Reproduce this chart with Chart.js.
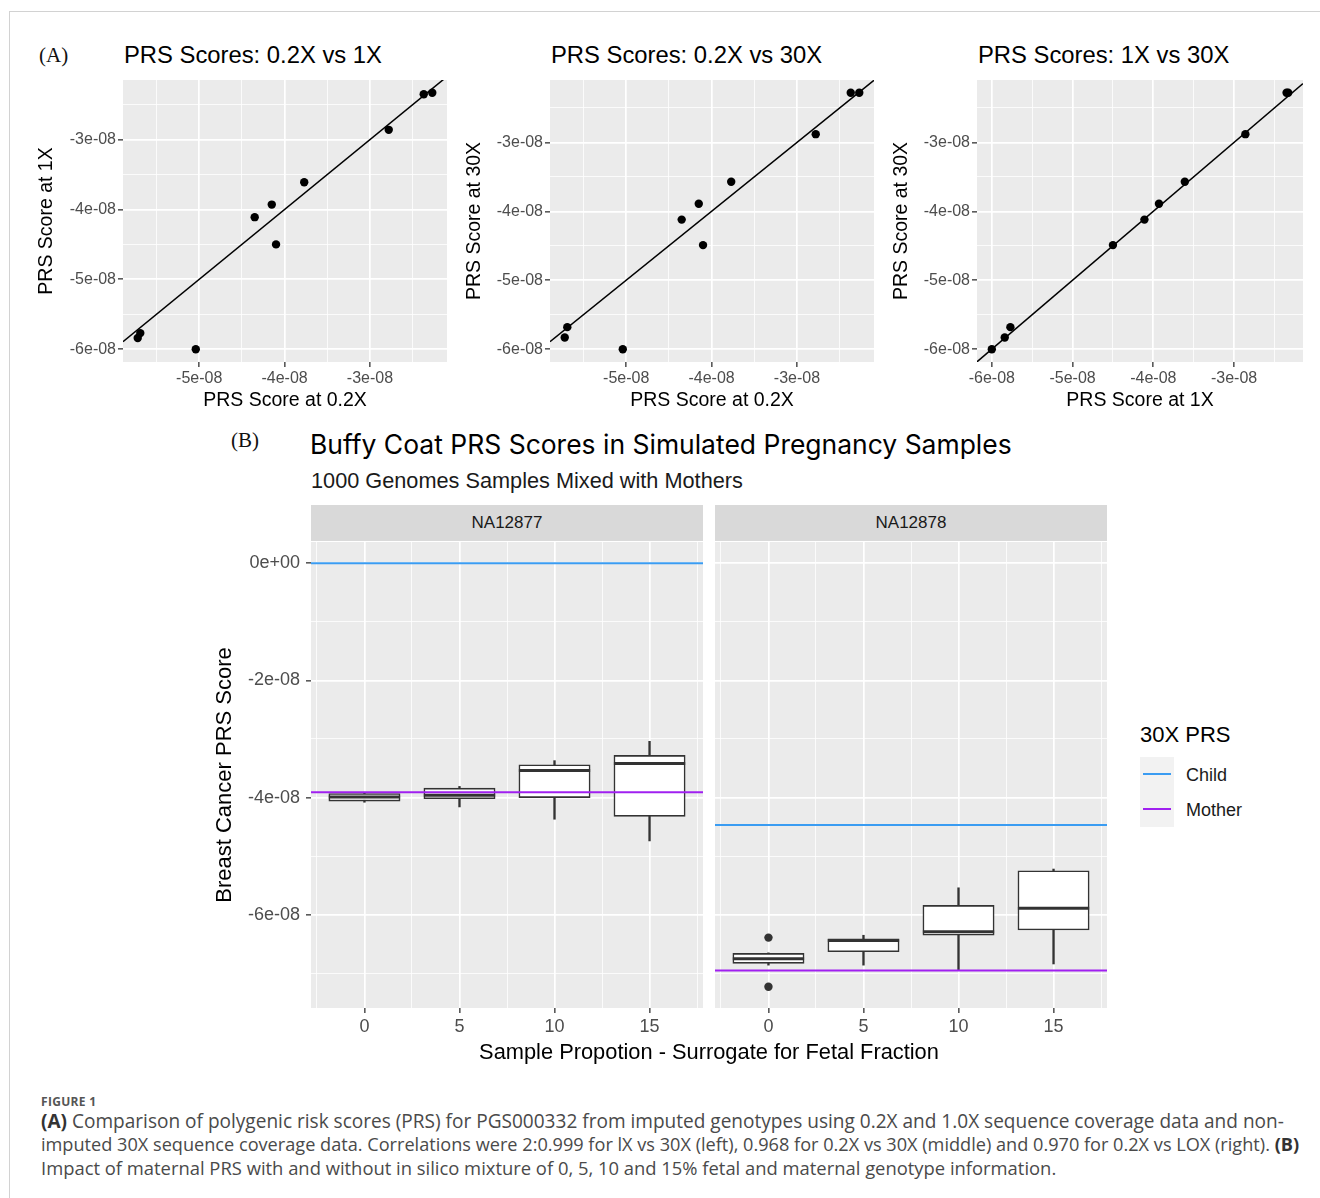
<!DOCTYPE html>
<html>
<head>
<meta charset="utf-8">
<script src="https://cdn.jsdelivr.net/npm/chart.js@4.4.1/dist/chart.umd.min.js"></script>
<style>
  html, body { margin:0; padding:0; background:#ffffff; }
  body { width:1320px; height:1198px; position:relative; overflow:hidden; font-family:"Liberation Sans", Arial, sans-serif; color:#000; }
  .frame { position:absolute; left:9px; top:11px; width:1400px; height:1400px; border-left:1px solid #d2d2d2; border-top:1px solid #d2d2d2; }
  .t { position:absolute; white-space:nowrap; }
  canvas { position:absolute; }
  .serif { font-family:"Liberation Serif", "Times New Roman", serif; font-size:21px; color:#111; line-height:26px; height:26px; }
  .ttlA { font-size:23.8px; line-height:30px; height:30px; color:#000; }
  .strip { position:absolute; background:#D9D9D9; color:#1A1A1A; font-size:17px; text-align:center; line-height:36px; height:36px; }
  .cap { font-family:"Open Sans", "Liberation Sans", sans-serif; color:#4a4a4a; font-size:16px; line-height:22px; height:22px; }
  .cap b { color:#333; }
</style>
</head>
<body>
<div class="frame"></div>

<!-- Panel A headings -->
<div class="t serif" style="left:39px; top:42px;">(A)</div>
<div class="t ttlA" style="left:124px; top:40px;">PRS Scores: 0.2X vs 1X</div>
<div class="t ttlA" style="left:551px; top:40px;">PRS Scores: 0.2X vs 30X</div>
<div class="t ttlA" style="left:978px; top:40px;">PRS Scores: 1X vs 30X</div>

<canvas id="a1" width="422" height="346" style="left:35px; top:66px;"></canvas>
<canvas id="a2" width="421" height="346" style="left:463px; top:66px;"></canvas>
<canvas id="a3" width="423" height="346" style="left:890px; top:66px;"></canvas>

<!-- Panel B headings -->
<div class="t serif" style="left:231px; top:427px;">(B)</div>
<div class="t fit" data-w="702" style="left:310px; top:428px; font-family:Inter, 'Noto Sans', sans-serif; font-size:24px; line-height:32px; height:32px; color:#000;">Buffy Coat PRS Scores in Simulated Pregnancy Samples</div>
<div class="t fit" data-w="432" style="left:311px; top:467px; font-size:21px; line-height:28px; height:28px; color:#1a1a1a;">1000 Genomes Samples Mixed with Mothers</div>

<div class="strip" style="left:311px; top:505px; width:392px;">NA12877</div>
<div class="strip" style="left:715px; top:505px; width:392px;">NA12878</div>

<canvas id="b1" width="491" height="540" style="left:212px; top:525px;"></canvas>
<canvas id="b2" width="392" height="540" style="left:715px; top:525px;"></canvas>

<div class="t fit" data-w="460" data-center="709" style="left:478px; top:1038px; font-size:22px; line-height:28px; height:28px; color:#000;">Sample Propotion - Surrogate for Fetal Fraction</div>

<!-- Legend -->
<div class="t" style="left:1140px; top:721px; font-size:22px; line-height:28px; height:28px; color:#000;">30X PRS</div>
<div style="position:absolute; left:1140px; top:757px; width:34px; height:70px; background:#F2F2F2;"></div>
<div id="legChild" style="position:absolute; left:1143px; top:773px; width:28px; height:2px;"></div>
<div id="legMother" style="position:absolute; left:1143px; top:808px; width:28px; height:2px;"></div>
<div class="t" style="left:1186px; top:763px; font-size:18px; line-height:24px; height:24px; color:#1a1a1a;">Child</div>
<div class="t" style="left:1186px; top:798px; font-size:18px; line-height:24px; height:24px; color:#1a1a1a;">Mother</div>

<!-- Caption -->
<div class="t" style="left:41px; top:1094px; font-family:'Open Sans','Liberation Sans',sans-serif; font-size:12px; font-weight:bold; color:#555; line-height:16px; height:16px; letter-spacing:0.3px;">FIGURE 1</div>
<div class="t cap fit" data-w="1244" style="left:41px; top:1110px;"><b>(A)</b> Comparison of polygenic risk scores (PRS) for PGS000332 from imputed genotypes using 0.2X and 1.0X sequence coverage data and non-</div>
<div class="t cap fit" data-w="1259" style="left:41px; top:1133px;">imputed 30X sequence coverage data. Correlations were 2:0.999 for lX vs 30X (left), 0.968 for 0.2X vs 30X (middle) and 0.970 for 0.2X vs LOX (right). <b>(B)</b></div>
<div class="t cap fit" data-w="1016" style="left:41px; top:1157px;">Impact of maternal PRS with and without in silico mixture of 0, 5, 10 and 15% fetal and maternal genotype information.</div>

<script>
// ================= DATA =================
// Panel A: PRS scores of the ten samples at each coverage
const prs02 = [-5.72e-8, -5.69e-8, -5.04e-8, -4.35e-8, -4.15e-8, -4.10e-8, -3.77e-8, -2.78e-8, -2.37e-8, -2.27e-8];
const prs1  = [-5.84e-8, -5.77e-8, -6.00e-8, -4.11e-8, -3.93e-8, -4.50e-8, -3.61e-8, -2.86e-8, -2.35e-8, -2.33e-8];
const prs30 = [-5.83e-8, -5.68e-8, -6.00e-8, -4.12e-8, -3.89e-8, -4.49e-8, -3.57e-8, -2.88e-8, -2.28e-8, -2.28e-8];
const tickValuesA = [-6.5e-8, -6e-8, -5.5e-8, -5e-8, -4.5e-8, -4e-8, -3.5e-8, -3e-8, -2.5e-8, -2e-8];

// Panel B: box plots by sample proportion (fetal fraction surrogate)
const propCats = [0, 5, 10, 15];
const facetNames = ['NA12877', 'NA12878'];
const lo_NA12877  = [-4.08e-8, -4.16e-8, -4.37e-8, -4.74e-8];
const q1_NA12877  = [-4.06e-8, -4.02e-8, -4.00e-8, -4.32e-8];
const med_NA12877 = [-3.99e-8, -3.96e-8, -3.54e-8, -3.42e-8];
const q3_NA12877  = [-3.93e-8, -3.84e-8, -3.44e-8, -3.28e-8];
const hi_NA12877  = [-3.91e-8, -3.81e-8, -3.37e-8, -3.04e-8];
const out_NA12877 = [];
const lo_NA12878  = [-6.86e-8, -6.86e-8, -6.95e-8, -6.84e-8];
const q1_NA12878  = [-6.83e-8, -6.63e-8, -6.35e-8, -6.26e-8];
const med_NA12878 = [-6.75e-8, -6.44e-8, -6.29e-8, -5.89e-8];
const q3_NA12878  = [-6.66e-8, -6.41e-8, -5.84e-8, -5.25e-8];
const hi_NA12878  = [-6.65e-8, -6.35e-8, -5.54e-8, -5.22e-8];
const out_NA12878 = [{x: 0, y: -6.39e-8}, {x: 0, y: -7.23e-8}];
const child30X  = [0, -4.47e-8];      // per facet
const mother30X = [-3.91e-8, -6.95e-8]; // per facet
const tickValuesBy = [-8e-8, -7e-8, -6e-8, -5e-8, -4e-8, -3e-8, -2e-8, -1e-8, 0];
const tickValuesBx = [-2.5, 0, 2.5, 5, 7.5, 10, 12.5, 15, 17.5];

// ================= STYLE =================
const FONT = '"Liberation Sans", Arial, sans-serif';
const TICK_GRAY = '#4D4D4D';
const CHILD_COL = '#3A9CF2';
const MOTHER_COL = '#A020F0';
const BOX_DARK = '#333333';
document.getElementById('legChild').style.background = CHILD_COL;
document.getElementById('legMother').style.background = MOTHER_COL;

// text width fitting for HTML labels
document.querySelectorAll('.fit').forEach(el => {
  const target = +el.dataset.w;
  const w = el.getBoundingClientRect().width;
  const fs = parseFloat(getComputedStyle(el).fontSize);
  el.style.fontSize = (fs * target / w) + 'px';
  if (el.dataset.center) {
    const w2 = el.getBoundingClientRect().width;
    el.style.left = (+el.dataset.center - w2 / 2) + 'px';
  }
});

const bgPlugin = {
  id: 'panelBg',
  beforeDraw(chart) {
    const a = chart.chartArea; if (!a) return;
    const c = chart.ctx; c.save(); c.fillStyle = '#EBEBEB';
    c.fillRect(a.left, a.top, a.right - a.left, a.bottom - a.top); c.restore();
  }
};

function expand(vals, mult) {
  const lo = Math.min(...vals), hi = Math.max(...vals), d = (hi - lo) * mult;
  return [lo - d, hi + d];
}
function near(v, step) { const r = v / step; return Math.abs(r - Math.round(r)) < 1e-6; }
function sci(v) { if (Math.abs(v) < 1e-15) return '0e+00'; return Math.round(v / 1e-8) + 'e-08'; }

function makeScale(o) {
  const {axis, min, max, ticks, majorFn, labelFn, fontSize, pad, title, titleSize, showLabels, fitSize} = o;
  return {
    type: 'linear', min, max, offset: false,
    border: {display: false},
    grid: {
      offset: false, drawOnChartArea: true, drawTicks: showLabels, tickLength: 5,
      color: '#FFFFFF',
      lineWidth: (c) => (c.tick && majorFn(c.tick.value)) ? 1.7 : 0.8,
      tickColor: (c) => (c.tick && majorFn(c.tick.value)) ? '#333333' : 'rgba(0,0,0,0)',
      tickWidth: 1.3
    },
    ticks: {
      display: showLabels, autoSkip: false, maxRotation: 0, minRotation: 0, padding: pad,
      color: TICK_GRAY, font: {family: FONT, size: fontSize},
      callback: (v) => majorFn(v) ? labelFn(v) : ''
    },
    title: title ? {display: true, text: title, color: '#000', font: {family: FONT, size: titleSize}, padding: 0} : {display: false},
    afterBuildTicks: (s) => { s.ticks = ticks.filter(t => t >= min - 1e-20 && t <= max + 1e-20).map(v => ({value: v})); },
    afterFit: (s) => { if (axis === 'x') s.height = fitSize; else s.width = fitSize; }
  };
}

// ================= PANEL A =================
function scatterPanel(id, xs, ys, xTitle, yTitle, yAxisW) {
  const xr = expand(xs, 0.05), yr = expand(ys, 0.05);
  const maj = (v) => near(v, 1e-8);
  new Chart(document.getElementById(id), {
    type: 'scatter',
    data: {
      datasets: [
        {type: 'line', data: [{x: xr[0], y: xr[0]}, {x: xr[1], y: xr[1]}], borderColor: '#000', borderWidth: 1.5,
         pointRadius: 0, showLine: true, fill: false, order: 2},
        {type: 'scatter', data: xs.map((x, i) => ({x, y: ys[i]})), backgroundColor: '#000', borderColor: '#000',
         pointRadius: 4.2, borderWidth: 0, order: 1}
      ]
    },
    options: {
      responsive: false, animation: false, events: [],
      layout: {autoPadding: false, padding: {left: 0, right: 10, top: 14, bottom: 0}},
      plugins: {legend: {display: false}, tooltip: {enabled: false}, title: {display: false}},
      scales: {
        x: makeScale({axis: 'x', min: xr[0], max: xr[1], ticks: tickValuesA, majorFn: maj, labelFn: sci,
                      fontSize: 16, pad: 2, title: xTitle, titleSize: 19.5, showLabels: true, fitSize: 50}),
        y: makeScale({axis: 'y', min: yr[0], max: yr[1], ticks: tickValuesA, majorFn: maj, labelFn: sci,
                      fontSize: 16, pad: 2, title: yTitle, titleSize: 19.5, showLabels: true, fitSize: yAxisW})
      }
    },
    plugins: [bgPlugin]
  });
}
scatterPanel('a1', prs02, prs1, 'PRS Score at 0.2X', 'PRS Score at 1X', 88);
scatterPanel('a2', prs02, prs30, 'PRS Score at 0.2X', 'PRS Score at 30X', 87);
scatterPanel('a3', prs1, prs30, 'PRS Score at 1X', 'PRS Score at 30X', 87);

// ================= PANEL B =================
const facets = [
  {lo: lo_NA12877, q1: q1_NA12877, med: med_NA12877, q3: q3_NA12877, hi: hi_NA12877, out: out_NA12877},
  {lo: lo_NA12878, q1: q1_NA12878, med: med_NA12878, q3: q3_NA12878, hi: hi_NA12878, out: out_NA12878}
];
const boxW = 0.75 * 5; // ggplot default width (0.75 x resolution)
const allY = [];
facets.forEach(f => { allY.push(...f.lo, ...f.hi, ...f.out.map(p => p.y)); });
allY.push(...child30X, ...mother30X);
const yB = expand(allY, 0.05);
const xB = (() => { const lo = Math.min(...propCats) - boxW / 2, hi = Math.max(...propCats) + boxW / 2, d = (hi - lo) * 0.05; return [lo - d, hi + d]; })();
const facetPlotW = 392;
const boxPx = boxW / (xB[1] - xB[0]) * facetPlotW;

function boxPanel(id, fi, showY) {
  const f = facets[fi];
  const majY = (v) => near(v, 2e-8);
  const majX = (v) => near(v, 5);
  new Chart(document.getElementById(id), {
    type: 'bar',
    data: {
      datasets: [
        {type: 'line', label: 'Child', data: [{x: xB[0], y: child30X[fi]}, {x: xB[1], y: child30X[fi]}],
         borderColor: CHILD_COL, borderWidth: 2, pointRadius: 0, showLine: true, fill: false, order: 0},
        {type: 'line', label: 'Mother', data: [{x: xB[0], y: mother30X[fi]}, {x: xB[1], y: mother30X[fi]}],
         borderColor: MOTHER_COL, borderWidth: 2, pointRadius: 0, showLine: true, fill: false, order: 0},
        {type: 'line', label: 'median', data: propCats.map((c, i) => ({x: c, y: f.med[i]})), showLine: false,
         pointStyle: 'line', pointRadius: boxPx / 2, pointBorderWidth: 3, pointBorderColor: BOX_DARK,
         pointBackgroundColor: BOX_DARK, order: 1},
        {type: 'line', label: 'outliers', data: f.out, showLine: false, pointStyle: 'circle', pointRadius: 4.2,
         pointBackgroundColor: BOX_DARK, pointBorderColor: BOX_DARK, pointBorderWidth: 0, order: 1},
        {type: 'bar', label: 'box', data: propCats.map((c, i) => ({x: c, y: [f.q1[i], f.q3[i]]})),
         backgroundColor: '#FFFFFF', borderColor: BOX_DARK, borderWidth: 1.6, borderSkipped: false,
         barThickness: boxPx, grouped: false, order: 2},
        {type: 'bar', label: 'whisker', data: propCats.map((c, i) => ({x: c, y: [f.lo[i], f.hi[i]]})),
         backgroundColor: BOX_DARK, borderWidth: 0, barThickness: 1.7, grouped: false, order: 3}
      ]
    },
    options: {
      responsive: false, animation: false, events: [],
      layout: {autoPadding: false, padding: {left: 0, right: 0, top: 17, bottom: 0}},
      plugins: {legend: {display: false}, tooltip: {enabled: false}, title: {display: false}},
      scales: {
        x: makeScale({axis: 'x', min: xB[0], max: xB[1], ticks: tickValuesBx, majorFn: majX, labelFn: (v) => String(v),
                      fontSize: 18, pad: 3, title: null, showLabels: true, fitSize: 57}),
        y: makeScale({axis: 'y', min: yB[0], max: yB[1], ticks: tickValuesBy, majorFn: majY, labelFn: sci,
                      fontSize: 18, pad: 6, title: showY ? 'Breast Cancer PRS Score' : null, titleSize: 22,
                      showLabels: showY, fitSize: showY ? 99 : 0})
      }
    },
    plugins: [bgPlugin]
  });
}
boxPanel('b1', 0, true);
boxPanel('b2', 1, false);
</script>
</body>
</html>
